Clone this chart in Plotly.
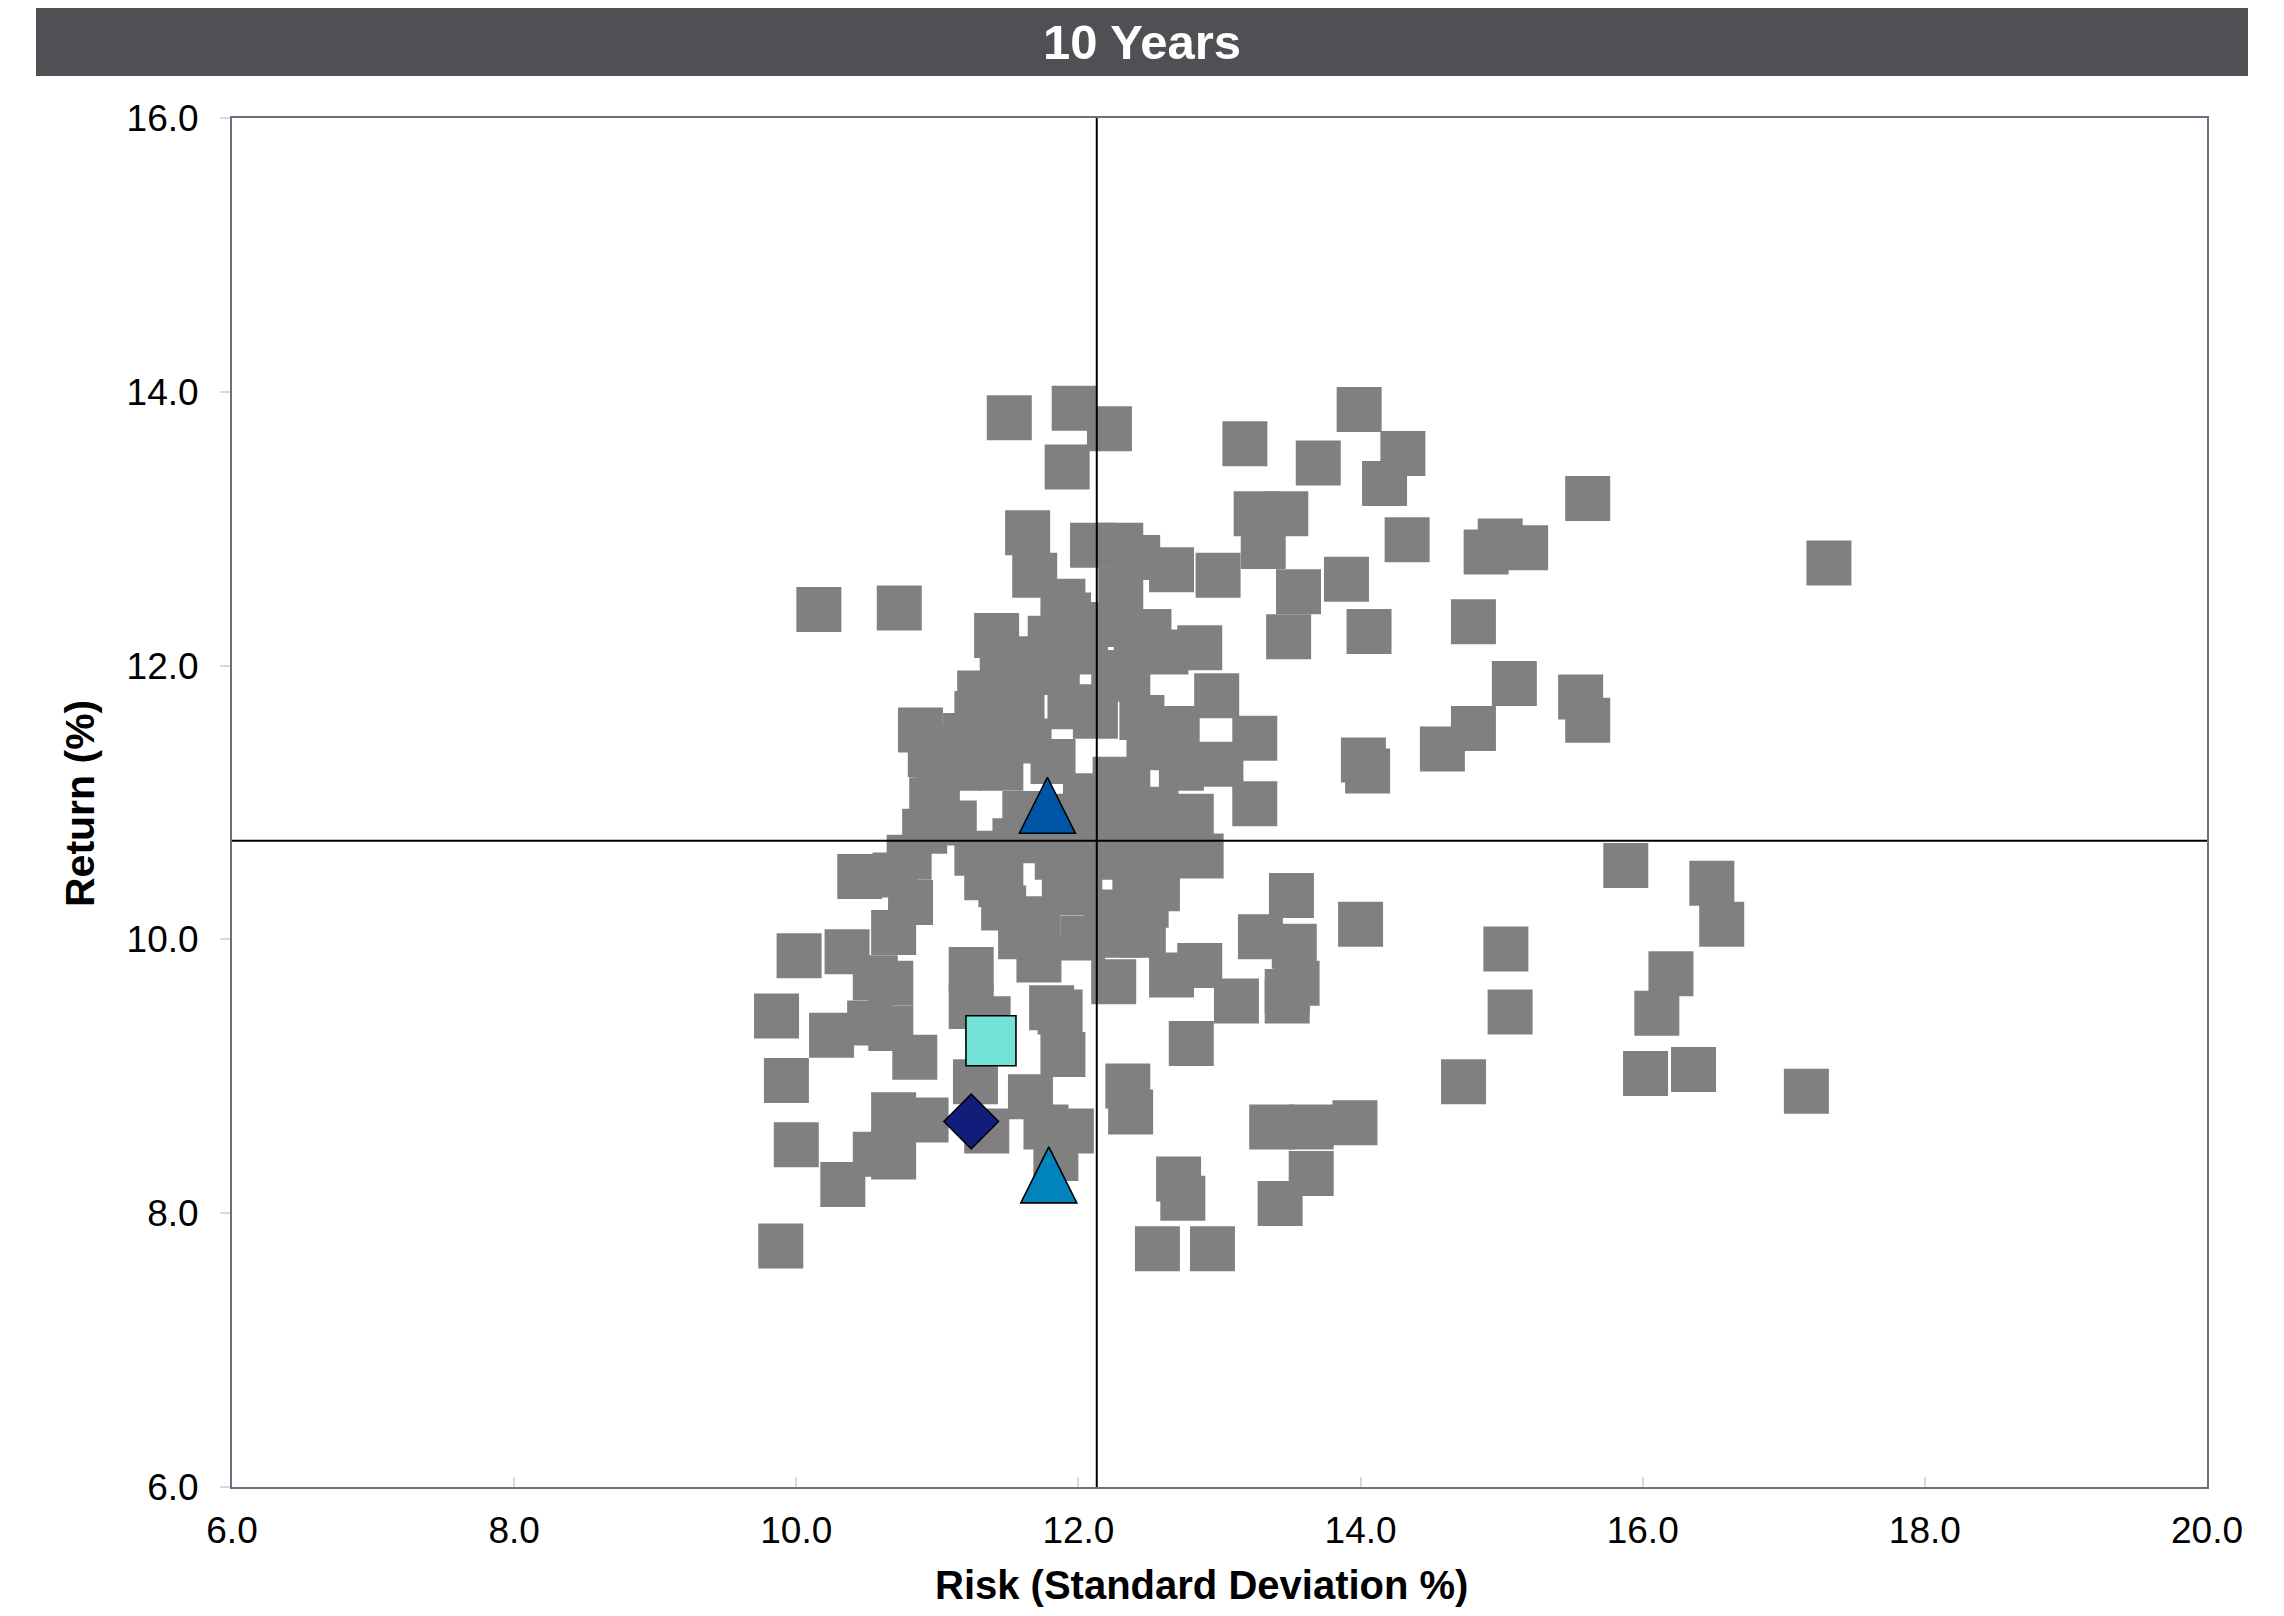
import plotly.graph_objects as go

# ---------------- data ----------------
gray_risk = [
    11.51, 11.97, 12.22, 11.92, 13.18, 13.99, 13.70, 14.30, 14.17, 14.33,
    15.61, 17.32, 13.26, 13.47, 13.31, 12.99, 13.56, 13.90, 13.49, 14.06,
    14.80, 14.89, 14.99, 15.17, 15.09, 15.56, 15.61, 14.58, 14.80, 14.02,
    14.05, 13.25, 13.25, 13.01, 12.73, 12.70, 12.98, 10.16, 10.73, 11.42,
    11.64, 11.69, 12.10, 12.30, 12.42, 12.66, 11.89, 11.93, 12.50, 12.86,
    11.75, 11.46, 11.37, 10.88, 11.20, 11.00, 10.96, 10.91, 10.80, 10.45,
    10.70, 12.26, 12.42, 12.74, 12.87, 12.45, 11.94, 12.12, 12.41,
    15.88, 16.49, 16.56, 16.20, 16.10, 16.02, 16.36, 17.16, 15.03, 15.06,
    14.73, 14.00, 13.51, 13.29, 13.53, 13.48, 13.12, 12.86, 12.66, 12.80,
    12.35, 12.37, 13.37, 13.65, 13.96, 13.65, 13.43, 12.71, 12.74, 12.56,
    12.95, 13.48, 13.55,
    10.02, 10.36, 10.69, 10.81, 10.56, 10.67, 10.52, 10.67, 10.25, 9.86,
    9.93, 10.00, 9.89, 10.33, 10.56, 10.69, 10.69, 10.92, 10.84, 11.24,
    11.24, 11.36, 11.27, 11.35, 11.66, 11.81, 11.87, 11.89, 11.77, 11.95,
    11.84,
    11.28, 11.47, 11.71, 12.01, 12.03, 11.59, 11.72, 12.25, 12.56, 12.48,
    12.46, 12.29,
    11.55, 11.85, 12.15, 12.40, 12.60,
    11.15, 11.45, 11.65, 11.62, 11.90, 11.82, 11.60, 11.85, 12.05, 12.20,
    12.35, 12.62, 12.50, 12.35, 12.55, 12.05, 11.35, 11.10, 12.80, 12.15,
    11.12,
    10.95, 11.28, 11.30, 11.55, 11.80, 12.30, 12.25, 12.55, 12.30, 11.35,
    11.90, 12.20, 11.45,
]
gray_return = [
    13.81, 13.88, 13.73, 13.45, 13.62, 13.87, 13.48, 13.55, 13.33, 12.92,
    13.22, 12.75, 13.11, 13.11, 12.87, 12.66, 12.54, 12.63, 12.21, 12.25,
    12.32, 12.83, 12.91, 12.86, 11.87, 11.77, 11.60, 11.39, 11.54, 11.31,
    11.23, 11.47, 10.99, 11.28, 11.25, 11.54, 11.78, 12.41, 12.42, 12.22,
    12.97, 12.66, 12.88, 12.88, 12.79, 12.70, 12.47, 12.37, 12.25, 12.13,
    12.00, 11.90, 11.60, 11.53, 11.49, 11.17, 11.02, 10.79, 10.60, 10.46,
    10.47, 11.17, 10.76, 10.69, 10.61, 11.62, 11.70, 11.63, 12.12,
    10.54, 10.41, 10.11, 9.75, 9.46, 9.02, 9.05, 8.89, 9.93, 9.47,
    8.96, 10.11, 10.32, 10.02, 9.95, 9.62, 9.55, 9.81, 9.74, 9.24,
    8.93, 8.74, 8.63, 8.63, 8.66, 8.29, 8.07, 8.25, 8.11, 7.74,
    7.74, 9.55, 9.68,
    9.88, 9.91, 10.05, 10.27, 9.72, 9.68, 9.39, 9.35, 9.30, 9.44,
    8.97, 8.50, 7.76, 8.21, 8.43, 8.41, 8.72, 8.68, 9.14, 9.78,
    9.51, 9.42, 8.96, 8.60, 8.85, 9.50, 9.47, 9.16, 8.63, 8.60,
    8.40,
    10.63, 10.23, 10.15, 10.34, 10.01, 10.02, 9.85, 9.69, 10.37, 10.25,
    10.03, 10.03,
    10.72, 10.60, 10.60, 10.50, 10.62,
    11.25, 11.25, 11.45, 10.92, 10.90, 11.30, 11.75, 11.95, 12.10, 12.30,
    11.90, 12.10, 11.40, 11.10, 10.95, 11.05, 11.55, 11.40, 10.90, 10.88,
    10.85,
    11.35, 11.65, 11.80, 12.05, 12.20, 12.55, 11.95, 10.75, 10.80, 10.45,
    10.40, 10.20, 10.40,
]

# highlighted portfolios / benchmarks
cyan_risk, cyan_return = [11.38], [9.26]
diamond_risk, diamond_return = [11.24], [8.67]
tri_dark_risk, tri_dark_return = [11.78], [10.98]
tri_light_risk, tri_light_return = [11.79], [8.28]

# median crosshair
median_risk = 12.13
median_return = 10.72

x_ticks = [6, 8, 10, 12, 14, 16, 18, 20]
y_ticks = [6, 8, 10, 12, 14, 16]

chart_title = "10 Years"
x_title = "Risk (Standard Deviation %)"
y_title = "Return (%)"

# ---------------- layout constants (page pixels) ----------------
PAGE_W, PAGE_H = 2284, 1616
BODY = 8                       # default html body margin
PL, PR, PT, PB = 232, 2207, 118, 1487   # plot area on the page
W, H = PAGE_W - 2 * BODY, PAGE_H - 2 * BODY
L, T = PL - BODY, PT - BODY
R = W - (PR - BODY)
B = H - (PB - BODY)
PW, PH = PR - PL, PB - PT
Y_PX_PER_UNIT = PH / 10.0
TRI_SIZE = 56
tri_offset = (TRI_SIZE / 2) / Y_PX_PER_UNIT  # arrow apex sits at point -> shift axis

FONT = "Liberation Sans, Arial, Helvetica, sans-serif"

def px_x(p):
    return (p - PL) / PW

def px_y(p):
    return (PB - p) / PH

fig = go.Figure()

fig.add_trace(go.Scatter(
    x=gray_risk, y=gray_return, mode="markers",
    marker=dict(symbol="square", size=45, color="#808080",
                line=dict(width=0)),
    hoverinfo="x+y", showlegend=False,
))
fig.add_trace(go.Scatter(
    x=cyan_risk, y=cyan_return, mode="markers",
    marker=dict(symbol="square", size=50, color="#75e2d9",
                line=dict(color="#000000", width=1.6)),
    showlegend=False,
))
fig.add_trace(go.Scatter(
    x=diamond_risk, y=diamond_return, mode="markers",
    marker=dict(symbol="diamond", size=42, color="#111d7a",
                line=dict(color="#000000", width=1.6)),
    showlegend=False,
))
fig.add_trace(go.Scatter(
    x=tri_dark_risk, y=tri_dark_return, mode="markers", yaxis="y2",
    marker=dict(symbol="arrow-up", size=TRI_SIZE, color="#0055a6",
                line=dict(color="#000000", width=1.6)),
    showlegend=False,
))
fig.add_trace(go.Scatter(
    x=tri_light_risk, y=tri_light_return, mode="markers", yaxis="y2",
    marker=dict(symbol="arrow-up", size=TRI_SIZE, color="#0084bb",
                line=dict(color="#000000", width=1.6)),
    showlegend=False,
))

axis_line = "#66727f"
fig.update_layout(
    width=W, height=H, autosize=False,
    margin=dict(l=L, r=R, t=T, b=B, pad=0),
    paper_bgcolor="white", plot_bgcolor="white",
    font=dict(family=FONT, color="#000000"),
    xaxis=dict(
        range=[6, 20], tickvals=x_ticks, tickformat=".1f",
        showgrid=False, zeroline=False,
        showline=True, linecolor=axis_line, linewidth=2, mirror=True,
        ticks="inside", ticklen=10, tickwidth=2, tickcolor="#d9d9d9",
        tickfont=dict(size=37, family=FONT, color="#000"),
        ticklabelstandoff=10,
    ),
    yaxis=dict(
        range=[6, 16], tickvals=y_ticks, tickformat=".1f",
        showgrid=False, zeroline=False,
        showline=True, linecolor=axis_line, linewidth=2, mirror=True,
        ticks="outside", ticklen=10, tickwidth=2, tickcolor="#d9d9d9",
        tickfont=dict(size=37, family=FONT, color="#000"),
        ticklabelstandoff=14,
    ),
    yaxis2=dict(
        range=[6 - tri_offset, 16 - tri_offset], overlaying="y",
        visible=False, showgrid=False, zeroline=False,
    ),
    shapes=[
        dict(type="rect", xref="paper", yref="paper",
             x0=px_x(36), x1=px_x(2248), y0=px_y(76), y1=px_y(7),
             fillcolor="#4f5054", line=dict(width=0), layer="below"),
        dict(type="line", xref="x", yref="paper",
             x0=median_risk, x1=median_risk, y0=0, y1=1,
             line=dict(color="#000000", width=2), layer="above"),
        dict(type="line", xref="paper", yref="y",
             x0=0, x1=1, y0=median_return, y1=median_return,
             line=dict(color="#000000", width=2), layer="above"),
    ],
    annotations=[
        dict(text="<b>" + chart_title + "</b>", xref="paper", yref="paper",
             x=px_x(1142), y=px_y(42), xanchor="center", yanchor="middle",
             showarrow=False, font=dict(size=49, color="white", family=FONT)),
        dict(text="<b>" + x_title + "</b>", xref="paper", yref="paper",
             x=px_x(1201), y=px_y(1585), xanchor="center", yanchor="middle",
             showarrow=False, font=dict(size=40, color="#000", family=FONT)),
        dict(text="<b>" + y_title + "</b>", xref="paper", yref="paper",
             x=px_x(80), y=px_y(804), xanchor="center", yanchor="middle",
             textangle=-90,
             showarrow=False, font=dict(size=41, color="#000", family=FONT)),
    ],
)

fig.write_html("out.html")
